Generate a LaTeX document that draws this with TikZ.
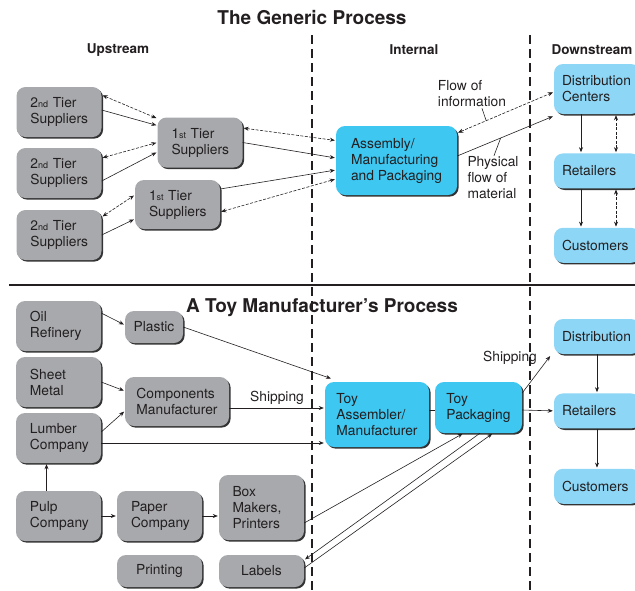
\documentclass[tikz,border=0pt]{standalone}
\usepackage{fontspec}
\setmainfont{TeX Gyre Heros}
\usetikzlibrary{arrows.meta,positioning,shadows}
\definecolor{boxgray}{HTML}{A7A9AC}
\definecolor{deepblue}{HTML}{3DC7F1}
\definecolor{paleblue}{HTML}{8DD6F6}
\definecolor{inkc}{HTML}{231F20}
\newcommand{\ordsup}[1]{{\fontsize{9}{9}\selectfont #1}}
\tikzset{
	txt/.style={font=\fontsize{13.8}{16}\selectfont, text=inkc},
	hdr/.style={font=\bfseries\fontsize{13.5}{16}\selectfont, text=inkc},
	ttl/.style={font=\bfseries\fontsize{19}{22}\selectfont, text=inkc},
	box/.style={txt, rounded corners=9pt, inner sep=2pt, align=left,
		drop shadow={shadow xshift=1.6pt, shadow yshift=-1.6pt, fill=black!80, opacity=1}},
	graybox/.style={box, fill=boxgray},
	leftgray/.style={graybox, inner xsep=14pt, text width=#1},
	bluebox/.style={box, fill=deepblue},
	palebox/.style={box, fill=paleblue, text width=70pt, inner xsep=8pt, minimum height=35pt},
	flow/.style={-{Stealth[length=5pt,width=4pt]}, line width=0.6pt, draw=inkc, shorten >=1pt},
	info/.style={{Stealth[length=5pt,width=4pt]}-{Stealth[length=5pt,width=4pt]}, line width=0.6pt,
		draw=inkc, dash pattern=on 3pt off 1.5pt, shorten >=1pt, shorten <=1pt},
	divider/.style={line width=1.3pt, draw=inkc, dash pattern=on 9pt off 5pt},
}
\begin{document}
\begin{tikzpicture}[x=1pt,y=-1pt]
	\useasboundingbox (0,0) rectangle (635,590);
	% dividers
	\draw[divider] (312,35) -- (312,590);
	\draw[divider] (530,35) -- (530,590);
	\draw[line width=1.3pt, draw=inkc] (9,285) -- (635,285);
	% the generic process
	\node[ttl] (gentitle) at (312,18) {The Generic Process};
	\node[hdr] (uphdr) at (118,50) {Upstream};
	\node[hdr] (inhdr) at (414,50) {Internal};
	\node[hdr] (downhdr) at (592,50) {Downstream};
	\node[leftgray=57pt, minimum height=50pt] (secA) at (59,112) {2\ordsup{nd} Tier\\Suppliers};
	\node[leftgray=57pt, minimum height=50pt] (secB) at (59,173) {2\ordsup{nd} Tier\\Suppliers};
	\node[leftgray=57pt, minimum height=50pt] (secC) at (59,235) {2\ordsup{nd} Tier\\Suppliers};
	\node[leftgray=57pt, minimum height=50pt] (firstA) at (200,142.5) {1\ordsup{st} Tier\\Suppliers};
	\node[leftgray=57pt, minimum height=49pt] (firstB) at (177.5,204.5) {1\ordsup{st} Tier\\Suppliers};
	\node[bluebox, minimum width=121pt, minimum height=69pt] (assembly) at (396.5,160.5) {Assembly/\\Manufacturing\\and Packaging};
	\node[palebox, minimum height=50pt] (distc) at (597,89) {Distribution\\Centers};
	\node[palebox, below=39pt of distc] (retail) {Retailers};
	\node[palebox, below=39pt of retail] (cust) {Customers};
	\node[txt, align=left, inner sep=1pt] (infolbl) at (472,94) {Flow of\\information};
	\node[txt, align=left, inner sep=1pt] (physlbl) at (493,178) {Physical\\flow of\\material};
	% arrows
	\draw[info] ([yshift=17pt]secA.east) -- ([yshift=24pt]firstA.west);
	\draw[flow] ([yshift=2pt]secA.east) -- ([yshift=17pt]firstA.west);
	\draw[info] ([yshift=15pt]secB.east) -- (firstA.west);
	\draw[flow] ([yshift=-8pt]secB.east) -- ([yshift=-9.5pt]firstA.west);
	\draw[info] ([yshift=18pt]secC.east) -- ([yshift=9.5pt]firstB.west);
	\draw[flow] (secC.east) -- ([yshift=-14.5pt]firstB.west);
	\draw[info] ([yshift=14.5pt]firstA.east) -- ([yshift=20pt]assembly.west);
	\draw[flow] (firstA.east) -- ([yshift=2.5pt]assembly.west);
	\draw[flow] ([yshift=15.5pt]firstB.east) -- ([yshift=-9.5pt]assembly.west);
	\draw[info] ([yshift=-7.5pt]firstB.east) -- ([yshift=-18.5pt]assembly.west);
	\draw[info] ([yshift=27.5pt]assembly.east) -- coordinate[pos=0.3] (infopin) ([yshift=-3pt]distc.west);
	\draw[flow] ([yshift=4.5pt]assembly.east) -- coordinate[pos=0.45] (physpin) ([yshift=-27pt]distc.west);
	\draw[line width=0.6pt, draw=inkc] ([xshift=10pt]infolbl.south) -- (infopin);
	\draw[line width=0.6pt, draw=inkc] ([xshift=1pt]physlbl.north) -- (physpin);
	\draw[flow] ([xshift=-16pt]distc.south) -- ([xshift=-16pt]retail.north);
	\draw[info] ([xshift=19pt]distc.south) -- ([xshift=19pt]retail.north);
	\draw[flow] ([xshift=-16pt]retail.south) -- ([xshift=-16pt]cust.north);
	\draw[info] ([xshift=19pt]retail.south) -- ([xshift=19pt]cust.north);
	% a toy manufacturer's process
	\node[ttl] (toytitle) at (322,308) {A Toy Manufacturer's Process};
	\node[leftgray=57pt, minimum height=50pt] (oil) at (58.5,326) {Oil\\Refinery};
	\node[graybox, minimum width=58pt, minimum height=32pt] (plastic) at (154,327) {Plastic};
	\node[leftgray=57pt, minimum height=50pt] (sheet) at (58.5,382) {Sheet\\Metal};
	\node[graybox, minimum width=104pt, minimum height=49pt] (comp) at (177,401.5) {Components\\Manufacturer};
	\node[leftgray=57pt, minimum height=50pt] (lumber) at (58.5,438) {Lumber\\Company};
	\node[leftgray=57pt, minimum height=50pt] (pulp) at (58.5,516) {Pulp\\Company};
	\node[leftgray=57pt, minimum height=50pt] (paper) at (159.5,516) {Paper\\Company};
	\node[leftgray=58pt, inner xsep=13.5pt, minimum height=65pt] (boxmk) at (261.5,507.5) {Box\\Makers,\\Printers};
	\node[graybox, minimum width=85pt, minimum height=32pt] (printing) at (159.5,571) {Printing};
	\node[graybox, minimum width=85pt, minimum height=32pt] (labels) at (261.5,571) {Labels};
	\node[bluebox, minimum width=104pt, minimum height=65pt] (toyasm) at (377,414.5) {Toy\\Assembler/\\Manufacturer};
	\node[bluebox, minimum width=87pt, minimum height=51pt] (toypack) at (478.5,407.5) {Toy\\Packaging};
	\node[palebox] (distb) at (597,336.5) {Distribution};
	\node[palebox, below=39pt of distb] (retailb) {Retailers};
	\node[palebox, below=40pt of retailb] (custb) {Customers};
	\node[txt] (shiplbl) at (510,358) {Shipping};
	% arrows
	\draw[flow] ([yshift=13pt]oil.east) -- ([yshift=2pt]plastic.west);
	\draw[flow] (plastic.east) -- ([xshift=7pt,yshift=3pt]toyasm.north west);
	\draw[flow] (sheet.east) -- ([yshift=10.5pt]comp.west);
	\draw[flow] ([yshift=6pt]lumber.east) -- ([yshift=-9.5pt]comp.west);
	\draw[flow] ([yshift=-6.5pt]comp.east) -- node[txt, above] {Shipping} ([yshift=6.5pt]toyasm.west);
	\draw[flow] ([yshift=-5pt]lumber.east) -- ([yshift=-28.5pt]toyasm.west);
	\draw[line width=0.6pt, draw=inkc] ([yshift=4.5pt]toyasm.east) -- ([yshift=-2.5pt]toypack.west);
	\draw[flow] ([yshift=14.5pt]toypack.east) -- ([xshift=-3pt,yshift=-1pt]distb.south west);
	\draw[flow] ([yshift=-2.5pt]toypack.east) -- (retailb.west);
	\draw[flow] (distb.south) -- (retailb.north);
	\draw[flow] (retailb.south) -- (custb.north);
	\draw[flow] ([xshift=-12pt]pulp.north) -- ([xshift=-12pt]lumber.south);
	\draw[flow] (pulp.east) -- (paper.west);
	\draw[flow] (paper.east) -- (paper.east -| boxmk.west);
	\draw[flow] ([yshift=-15.5pt]boxmk.east) -- ([xshift=-15pt]toypack.south);
	\draw[flow] ([xshift=1.5pt]toypack.south) -- ([yshift=11pt]labels.east);
	\draw[flow] ([yshift=3pt]labels.east) -- ([xshift=14.5pt]toypack.south);
\end{tikzpicture}
\end{document}
